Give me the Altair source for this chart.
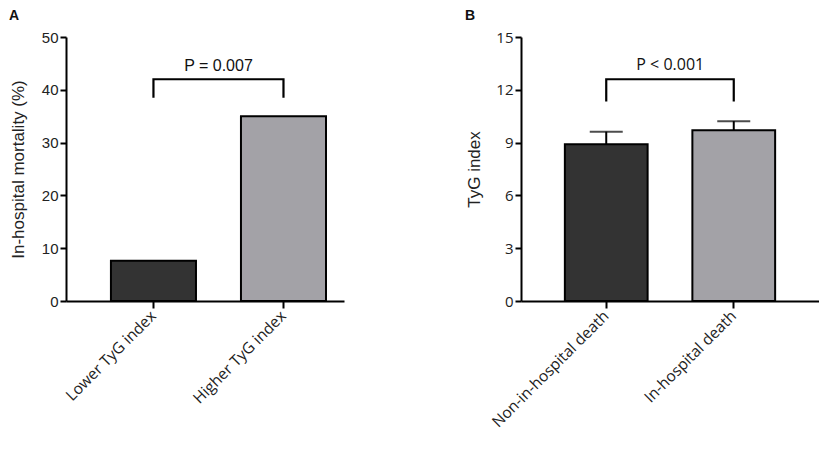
import altair as alt
import pandas as pd

# ---- data ----
cats_a = ["Lower TyG index", "Higher TyG index"]
vals_a = [7.6, 35.0]
cats_b = ["Non-in-hospital death", "In-hospital death"]
vals_b = [8.9, 9.7]
err_b = [9.62, 10.22]
colors = ["#333333", "#a3a2a7"]

bracket_a = [38.7, 42.0, 42.0, 38.7]
ptext_a = "P = 0.007"
ptext_y_a = 44.6
bracket_b = [11.4, 12.6, 12.6, 11.4]
ptext_b = "P < 0.001"
ptext_y_b = 13.4

ticks_a = [0, 10, 20, 30, 40, 50]
ticks_b = [0, 3, 6, 9, 12, 15]

ARIAL = "Liberation Sans"
OPEN = "Open Sans"
H = 264


def panel(cats, vals, colors, bracket, ptext, ptext_y, ticks, ytitle, letter,
          width, height, xscale, ylabel_font, tfont, half_step, title_x,
          errs=None):
    df = pd.DataFrame({"cat": cats, "val": vals, "color": colors})
    xenc = alt.X("cat:N", sort=cats, scale=xscale,
                 axis=alt.Axis(title=None, labelAngle=-45, labelAlign="right",
                               labelBaseline="middle", labelPadding=5,
                               labelFont=OPEN, labelFontSize=15.5,
                               tickSize=7))
    yenc = alt.Y("val:Q", scale=alt.Scale(domain=[ticks[0], ticks[-1]], nice=False),
                 axis=alt.Axis(values=ticks, title=ytitle, titleFont=ARIAL,
                               titleFontSize=17, titleFontWeight="normal",
                               titleColor="#222", titleX=title_x,
                               titleY=height / 2, titleAngle=270,
                               titleAlign="center", titleBaseline="middle",
                               labelFont=ylabel_font,
                               labelFontSize=15, labelPadding=2, tickSize=6,
                               format="d"))
    bars = alt.Chart(df).mark_bar(stroke="black", strokeWidth=2).encode(
        x=xenc, y=yenc, color=alt.Color("color:N", scale=None))
    layers = [bars]
    if errs is not None:
        dfe = pd.DataFrame({"cat": cats, "val": vals, "upper": errs})
        rule = alt.Chart(dfe).mark_rule(color="black", strokeWidth=2).encode(
            x=alt.X("cat:N", sort=cats), y="val:Q", y2="upper:Q")
        cap = alt.Chart(dfe).mark_tick(color="black", thickness=2, size=33,
                                       orient="horizontal").encode(
            x=alt.X("cat:N", sort=cats), y="upper:Q")
        layers = [rule, bars, cap]
    dfb = pd.DataFrame({"cat": [cats[0], cats[0], cats[1], cats[1]],
                        "val": bracket, "o": [0, 1, 2, 3]})
    br = alt.Chart(dfb).mark_line(color="black", strokeWidth=2.2,
                                  strokeCap="square", strokeJoin="miter").encode(
        x=alt.X("cat:N", sort=cats), y="val:Q", order="o:Q")
    dft = pd.DataFrame({"cat": [cats[0]], "val": [ptext_y], "label": [ptext]})
    txt = alt.Chart(dft).mark_text(dx=half_step, fontSize=16, font=tfont,
                                   color="#111").encode(
        x=alt.X("cat:N", sort=cats), y="val:Q", text="label:N")
    return alt.layer(*layers, br, txt).properties(
        width=width, height=height,
        title=alt.TitleParams(letter, anchor="start", frame="bounds",
                              fontSize=14, fontWeight="bold", font=ARIAL,
                              color="#111", offset=7))


chart_a = panel(cats_a, vals_a, colors, bracket_a, ptext_a, ptext_y_a, ticks_a,
                "In-hospital mortality (%)", "A", 278, H,
                alt.Scale(paddingInner=0.346, paddingOuter=0.242, align=0.714),
                ARIAL, ARIAL, 65, -48)
chart_b = panel(cats_b, vals_b, colors, bracket_b, ptext_b, ptext_y_b, ticks_b,
                "TyG index", "B", 298, H,
                alt.Scale(paddingInner=0.351, paddingOuter=0.344),
                OPEN, OPEN, 64, -47, errs=err_b)

chart = alt.hconcat(chart_a, chart_b, spacing=121).properties(
    padding={"left": 0, "top": 1, "right": 0, "bottom": 0}
).configure_view(stroke=None).configure_axis(
    grid=False, domainColor="black", domainWidth=2, tickColor="black",
    tickWidth=2, labelColor="#222")

chart.save("out.html", embed_options={"renderer": "svg", "actions": False})
